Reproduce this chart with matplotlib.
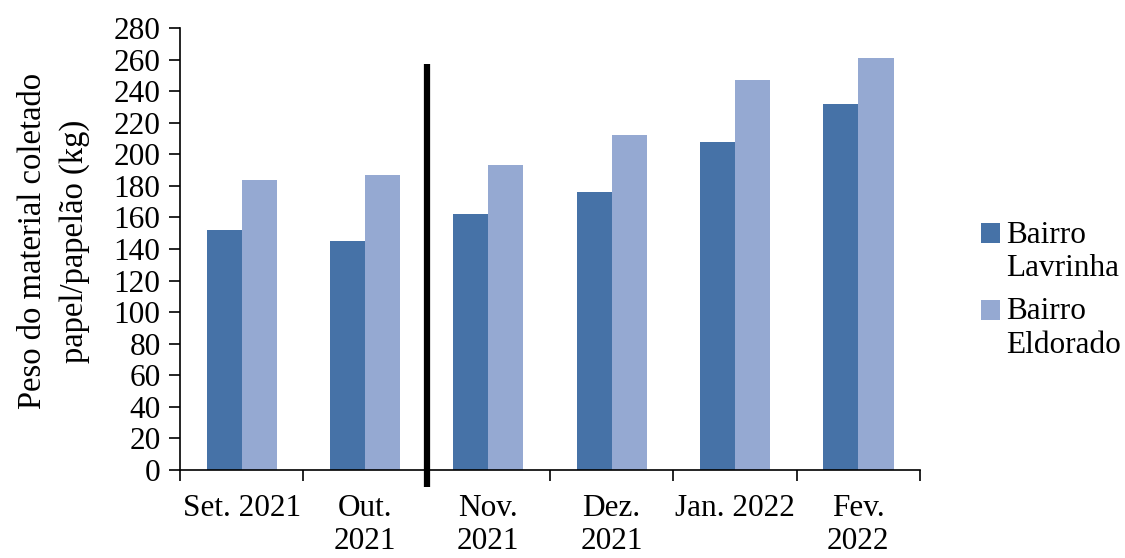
import matplotlib
matplotlib.use('Agg')
import matplotlib.pyplot as plt
import numpy as np
from matplotlib.patches import Rectangle
from matplotlib.container import BarContainer
from matplotlib.legend_handler import HandlerPatch, update_from_first_child

plt.rcParams['font.family'] = ['Liberation Serif', 'DejaVu Serif']

# Data
months = ['Set. 2021', 'Out.\n2021', 'Nov.\n2021', 'Dez.\n2021', 'Jan. 2022', 'Fev.\n2022']
lavrinha = [152, 145, 162, 176, 208, 232]
eldorado = [184, 187, 193, 212, 247, 261]
series_names = ['Bairro\nLavrinha', 'Bairro\nEldorado']
y_ticks = list(range(0, 281, 20))

# separator between Out. and Nov.
sep_pos = 1.5
sep_span = (-11, 257)

c_dark = '#4672A7'
c_light = '#95A9D2'
fs = 22.5

fig = plt.figure(figsize=(11.25, 5.58), dpi=100)
ax = fig.add_axes([0.16, 0.1577, 0.6578, 0.7921])

x = np.arange(len(months))
w = 0.285
ax.bar(x - w/2, lavrinha, w, color=c_dark, label=series_names[0])
ax.bar(x + w/2, eldorado, w, color=c_light, label=series_names[1])

ax.plot([sep_pos, sep_pos], sep_span, color='black', lw=4.5, clip_on=False,
        solid_capstyle='butt', zorder=5)

ax.set_xlim(-0.5, len(months) - 0.5)
ax.set_ylim(0, 280)
ax.set_yticks(y_ticks)
ax.tick_params(axis='y', labelsize=fs, length=8, width=1.2, pad=6, direction='out')

# ticks at category boundaries, labels at centers
ax.set_xticks(np.arange(len(months) + 1) - 0.5)
ax.set_xticklabels([])
ax.set_xticks(x, minor=True)
ax.set_xticklabels(months, minor=True, fontsize=fs, linespacing=1.2)
ax.tick_params(axis='x', which='major', length=8, width=1.2, direction='out')
ax.tick_params(axis='x', which='minor', length=0, pad=17)

for s in ['top', 'right']:
    ax.spines[s].set_visible(False)
for s in ['left', 'bottom']:
    ax.spines[s].set_linewidth(1.2)

ax.set_ylabel('Peso do material coletado\npapel/papelão (kg)', fontsize=23.5,
              linespacing=1.45)
ax.yaxis.set_label_coords(-0.122, 0.518)


def square(legend, orig_handle, xdescent, ydescent, width, height, fontsize):
    return Rectangle((-xdescent, -ydescent + 0.6 * fontsize), width, height)


leg = fig.legend(loc='center left', bbox_to_anchor=(0.872, 0.48), frameon=False,
                 fontsize=fs, handlelength=0.6, handleheight=0.6,
                 handletextpad=0.2, borderpad=0, borderaxespad=0,
                 labelspacing=0.45,
                 handler_map={BarContainer: HandlerPatch(
                     patch_func=square, update_func=update_from_first_child)})

plt.savefig('out.png', dpi=100)
